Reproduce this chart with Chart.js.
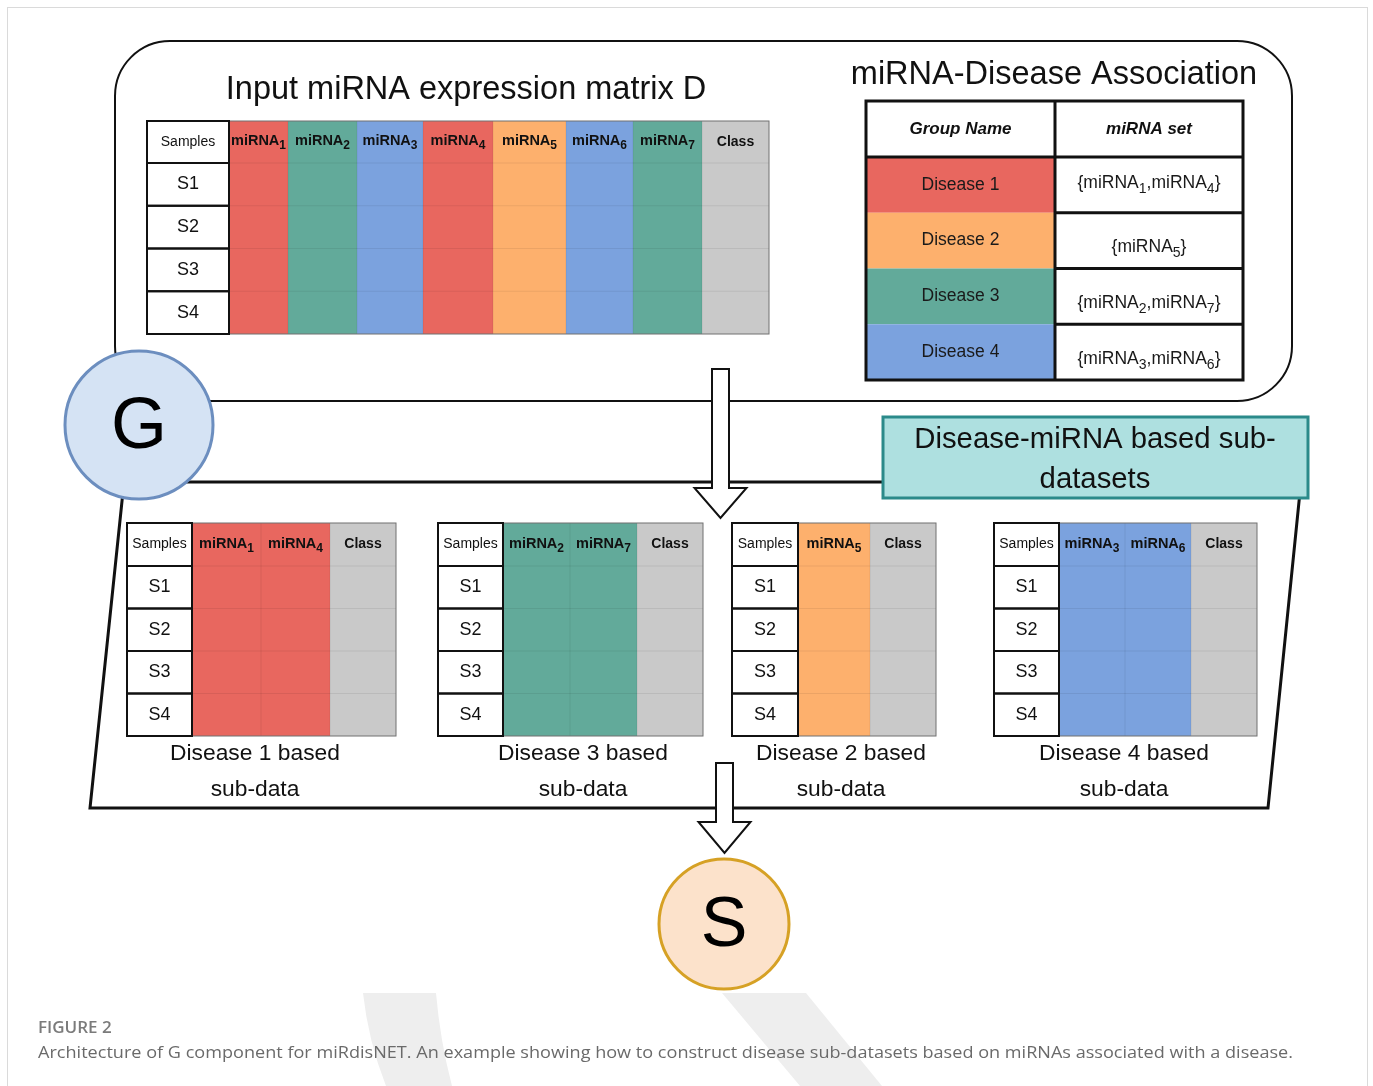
<!DOCTYPE html>
<html>
<head>
<meta charset="utf-8">
<script src="https://cdn.jsdelivr.net/npm/chart.js@4.4.0/dist/chart.umd.min.js"></script>
<style>
body { margin: 0; background: #fff; }
canvas { display: block; }
</style>
</head>
<body>
<canvas id="fig" width="1373" height="1086"></canvas>
<script>
const W = 1373, H = 1086
const FONT = '"Liberation Sans", Arial, sans-serif'

// Datos del esquema
const samples = ['S1', 'S2', 'S3', 'S4']
const mirnaIds = [1, 2, 3, 4, 5, 6, 7]
const diseases = ['Disease 1', 'Disease 2', 'Disease 3', 'Disease 4']
const diseaseMirnas = [[1, 4], [5], [2, 7], [3, 6]]
const subOrder = [0, 2, 1, 3]
const nodeLabels = ['G', 'S']

// Estilos
const diseaseColors = ['#E8675F', '#FDB06D', '#62AA9A', '#7BA2DE']
const classColor = '#C9C9C9'
const nodeFill = ['#D5E3F4', '#FCE2CB']
const nodeStroke = ['#6C8EBF', '#D6A125']

// Posiciones (en unidades de los ejes, 1 unidad = 1 px)
const mainT = { x: 147, y: 121, sampW: 82, colW: [59, 69, 66, 70, 73, 67, 69], classW: 67, headH: 42, rowH: 42.75 }
const subT = { xs: [127, 438, 732, 994], y: 523, sampW: [65, 65, 66, 65], colW: [69, 67, 72, 66], classW: 66, headH: 43, rowH: 42.5 }
const subLabelX = [255, 583, 841, 1124]
const assoc = { x: 866, y: 101, w1: 189, w2: 188, headH: 56, rowH: 55.75 }
const assocDy = [-2, 7, 7, 7]
const nodePos = [{ x: 139, y: 425, r: 74 }, { x: 724, y: 924, r: 65 }]

function colorOf(id) {
    const i = diseaseMirnas.findIndex(m => m.includes(id))
    return diseaseColors[i]
}

function line(ctx, x1, y1, x2, y2) {
    ctx.beginPath(); ctx.moveTo(x1, y1); ctx.lineTo(x2, y2); ctx.stroke()
}

function richText(ctx, parts, cx, cy, size, weight, style) {
    const font = sz => `${style || ''} ${weight || ''} ${sz}px ${FONT}`
    const subSize = Math.round(size * 0.82)
    let total = 0
    parts.forEach(p => {
        ctx.font = font(p.sub ? subSize : size)
        p.w = ctx.measureText(p.t).width
        total += p.w
    })
    let x = cx - total / 2
    ctx.textAlign = 'left'
    ctx.textBaseline = 'middle'
    parts.forEach(p => {
        ctx.font = font(p.sub ? subSize : size)
        ctx.fillText(p.t, x, cy + (p.sub ? size * 0.33 : 0))
        x += p.w
    })
}

function text(ctx, t, x, y, size, opts = {}) {
    ctx.font = `${opts.style || ''} ${opts.weight || ''} ${size}px ${opts.family || FONT}`
    ctx.fillStyle = opts.color || '#111'
    ctx.textAlign = opts.align || 'center'
    ctx.textBaseline = 'middle'
    ctx.fillText(t, x, y)
}

// Tabla de expresion (principal o sub-tabla)
function drawDataTable(ctx, sx, sy, x0, y0, ids, d) {
    const cols = ids.map((id, i) => ({ id, w: Array.isArray(d.colW) ? d.colW[i] : d.colW, color: colorOf(id) }))
    cols.push({ id: null, w: d.classW, color: classColor })
    const yEnd = y0 + d.headH + samples.length * d.rowH
    const xs = x0 + d.sampW
    let x = xs
    cols.forEach(c => {
        ctx.fillStyle = c.color
        ctx.fillRect(sx(x), sy(y0), sx(x + c.w) - sx(x), sy(yEnd) - sy(y0))
        c.x = x
        x += c.w
    })
    const xEnd = x
    // lineas tenues
    ctx.strokeStyle = 'rgba(0,0,0,0.07)'
    ctx.lineWidth = 1
    for (let i = 0; i < samples.length; i++) {
        const y = y0 + d.headH + i * d.rowH
        line(ctx, sx(xs), sy(y), sx(xEnd), sy(y))
    }
    cols.forEach((c, i) => { if (i > 0) line(ctx, sx(c.x), sy(y0), sx(c.x), sy(yEnd)) })
    ctx.strokeStyle = '#707070'
    ctx.strokeRect(sx(xs), sy(y0), sx(xEnd) - sx(xs), sy(yEnd) - sy(y0))

    // columna Samples
    ctx.fillStyle = '#fff'
    ctx.fillRect(sx(x0), sy(y0), sx(xs) - sx(x0), sy(yEnd) - sy(y0))
    ctx.strokeStyle = '#111'
    ctx.lineWidth = 2
    ctx.strokeRect(sx(x0), sy(y0), sx(xs) - sx(x0), sy(y0 + d.headH) - sy(y0))
    samples.forEach((s, i) => {
        const y = y0 + d.headH + i * d.rowH
        ctx.strokeRect(sx(x0), sy(y), sx(xs) - sx(x0), sy(y + d.rowH) - sy(y))
        text(ctx, s, sx(x0 + d.sampW / 2), sy(y + d.rowH / 2), 18)
    })
    const hy = sy(y0 + d.headH / 2)
    text(ctx, 'Samples', sx(x0 + d.sampW / 2), hy, 14)
    ctx.fillStyle = '#111'
    cols.forEach(c => {
        const cx = sx(c.x + c.w / 2)
        if (c.id === null) text(ctx, 'Class', cx, hy, 14, { weight: 'bold' })
        else richText(ctx, [{ t: 'miRNA' }, { t: String(c.id), sub: true }], cx, hy - 1, 14.5, 'bold')
    })
}

function hollowArrow(ctx, sx, sy, cx, top, base, tip, sh, hh) {
    ctx.beginPath()
    ctx.moveTo(sx(cx - sh), sy(top))
    ctx.lineTo(sx(cx + sh), sy(top))
    ctx.lineTo(sx(cx + sh), sy(base))
    ctx.lineTo(sx(cx + hh), sy(base))
    ctx.lineTo(sx(cx), sy(tip))
    ctx.lineTo(sx(cx - hh), sy(base))
    ctx.lineTo(sx(cx - sh), sy(base))
    ctx.closePath()
    ctx.fillStyle = '#fff'
    ctx.fill()
    ctx.strokeStyle = '#111'
    ctx.lineWidth = 2
    ctx.lineJoin = 'miter'
    ctx.stroke()
}

const diagram = {
    id: 'diagram',
    beforeDatasetsDraw(chart) {
        const ctx = chart.ctx
        const sx = v => chart.scales.x.getPixelForValue(v)
        const sy = v => chart.scales.y.getPixelForValue(v)
        ctx.save()

        // marca de agua
        ctx.fillStyle = '#EEEEEE'
        ctx.beginPath()
        ctx.moveTo(sx(363), sy(993)); ctx.lineTo(sx(436), sy(993))
        ctx.quadraticCurveTo(sx(440), sy(1040), sx(452), sy(1086))
        ctx.lineTo(sx(386), sy(1086))
        ctx.quadraticCurveTo(sx(368), sy(1040), sx(363), sy(993))
        ctx.fill()
        ctx.beginPath()
        ctx.moveTo(sx(722), sy(993)); ctx.lineTo(sx(806), sy(993))
        ctx.lineTo(sx(882), sy(1086)); ctx.lineTo(sx(800), sy(1086))
        ctx.closePath()
        ctx.fill()

        // borde de pagina
        ctx.strokeStyle = '#DADADA'
        ctx.lineWidth = 1
        ctx.strokeRect(sx(7) + 0.5, sy(7) + 0.5, sx(1367) - sx(7), sy(1100) - sy(7))

        // rectangulo superior redondeado
        const r = 55, x1 = sx(115), y1 = sy(41), x2 = sx(1292), y2 = sy(401)
        ctx.beginPath()
        ctx.moveTo(x1 + r, y1)
        ctx.arcTo(x2, y1, x2, y2, r)
        ctx.arcTo(x2, y2, x1, y2, r)
        ctx.arcTo(x1, y2, x1, y1, r)
        ctx.arcTo(x1, y1, x2, y1, r)
        ctx.closePath()
        ctx.strokeStyle = '#111'
        ctx.lineWidth = 2
        ctx.stroke()

        // paralelogramo inferior
        ctx.beginPath()
        ctx.moveTo(sx(124), sy(482)); ctx.lineTo(sx(1301), sy(482))
        ctx.lineTo(sx(1268), sy(808)); ctx.lineTo(sx(90), sy(808))
        ctx.closePath()
        ctx.lineWidth = 3
        ctx.stroke()

        // titulos
        text(ctx, 'Input miRNA expression matrix D', sx(466), sy(90), 32.5)
        text(ctx, 'miRNA-Disease Association', sx(1054), sy(75), 32.5)

        // tabla principal
        drawDataTable(ctx, sx, sy, mainT.x, mainT.y, mirnaIds, mainT)

        // tabla de asociacion
        const a = assoc
        const ax2 = a.x + a.w1, ax3 = ax2 + a.w2
        const aEnd = a.y + a.headH + diseases.length * a.rowH
        ctx.fillStyle = '#fff'
        ctx.fillRect(sx(a.x), sy(a.y), sx(ax3) - sx(a.x), sy(aEnd) - sy(a.y))
        diseases.forEach((dn, i) => {
            const y = a.y + a.headH + i * a.rowH
            ctx.fillStyle = diseaseColors[i]
            ctx.fillRect(sx(a.x), sy(y), sx(ax2) - sx(a.x), sy(y + a.rowH) - sy(y))
        })
        ctx.strokeStyle = '#111'
        ctx.lineWidth = 3
        line(ctx, sx(a.x), sy(a.y + a.headH), sx(ax3), sy(a.y + a.headH))
        line(ctx, sx(ax2), sy(a.y), sx(ax2), sy(aEnd))
        for (let i = 1; i < diseases.length; i++) {
            const y = a.y + a.headH + i * a.rowH
            line(ctx, sx(ax2), sy(y), sx(ax3), sy(y))
        }
        ctx.strokeRect(sx(a.x), sy(a.y), sx(ax3) - sx(a.x), sy(aEnd) - sy(a.y))
        text(ctx, 'Group Name', sx(a.x + a.w1 / 2), sy(a.y + a.headH / 2), 17, { weight: 'bold', style: 'italic' })
        text(ctx, 'miRNA set', sx(ax2 + a.w2 / 2), sy(a.y + a.headH / 2), 17, { weight: 'bold', style: 'italic' })
        diseases.forEach((dn, i) => {
            const cy = a.y + a.headH + (i + 0.5) * a.rowH
            text(ctx, dn, sx(a.x + a.w1 / 2), sy(cy), 17.5, { color: '#1a1a1a' })
            const parts = [{ t: '{' }]
            diseaseMirnas[i].forEach((id, k) => {
                parts.push({ t: (k > 0 ? ',' : '') + 'miRNA' })
                parts.push({ t: String(id), sub: true })
            })
            parts.push({ t: '}' })
            ctx.fillStyle = '#1a1a1a'
            richText(ctx, parts, sx(ax2 + a.w2 / 2), sy(cy + assocDy[i]), 17.5)
        })

        // caja de sub-datasets
        ctx.fillStyle = '#AEE0E0'
        ctx.fillRect(sx(883), sy(417), sx(1308) - sx(883), sy(498) - sy(417))
        ctx.strokeStyle = '#2B8A8A'
        ctx.lineWidth = 3
        ctx.strokeRect(sx(883), sy(417), sx(1308) - sx(883), sy(498) - sy(417))
        text(ctx, 'Disease-miRNA based sub-', sx(1095), sy(440), 29.3)
        text(ctx, 'datasets', sx(1095), sy(480), 29.3)

        // sub-tablas
        subOrder.forEach((di, k) => {
            const d = Object.assign({}, subT, { sampW: subT.sampW[k], colW: subT.colW[k] })
            drawDataTable(ctx, sx, sy, subT.xs[k], subT.y, diseaseMirnas[di], d)
            text(ctx, diseases[di] + ' based', sx(subLabelX[k]), sy(754), 22.8)
            text(ctx, 'sub-data', sx(subLabelX[k]), sy(790), 22.8)
        })

        // flechas
        hollowArrow(ctx, sx, sy, 720.5, 369, 488, 518, 8.5, 26)
        hollowArrow(ctx, sx, sy, 724.5, 763, 822, 853, 8.5, 26)

        // leyenda de la figura
        text(ctx, 'FIGURE 2', sx(38), sy(1028), 17, { align: 'left', weight: '600', family: '"Open Sans", sans-serif', color: '#7b7b7b' })
        const cap = 'Architecture of G component for miRdisNET. An example showing how to construct disease sub-datasets based on miRNAs associated with a disease.'
        ctx.font = `17px "Open Sans", sans-serif`
        const cw = ctx.measureText(cap).width
        ctx.save()
        ctx.translate(sx(38), sy(1053))
        ctx.scale((sx(1293) - sx(38)) / cw, 1)
        ctx.fillStyle = '#6a6a6a'
        ctx.textAlign = 'left'
        ctx.textBaseline = 'middle'
        ctx.fillText(cap, 0, 0)
        ctx.restore()

        ctx.restore()
    },
    afterDatasetsDraw(chart) {
        const ctx = chart.ctx
        const sx = v => chart.scales.x.getPixelForValue(v)
        const sy = v => chart.scales.y.getPixelForValue(v)
        ctx.save()
        nodeLabels.forEach((n, i) => {
            text(ctx, n, sx(nodePos[i].x), sy(nodePos[i].y + 3), i === 0 ? 72 : 70, { color: '#000' })
        })
        ctx.restore()
    }
}

new Chart(document.getElementById('fig'), {
    type: 'scatter',
    data: {
        datasets: [{
            label: 'nodos',
            data: nodePos.map(p => ({ x: p.x, y: p.y })),
            pointRadius: nodePos.map(p => p.r),
            pointHoverRadius: nodePos.map(p => p.r),
            backgroundColor: nodeFill,
            borderColor: nodeStroke,
            borderWidth: 3,
            clip: false
        }]
    },
    options: {
        responsive: false,
        animation: false,
        devicePixelRatio: 1,
        events: [],
        layout: { padding: 0, autoPadding: false },
        plugins: { legend: { display: false }, tooltip: { enabled: false } },
        scales: {
            x: { type: 'linear', min: 0, max: W, display: false },
            y: { type: 'linear', min: 0, max: H, reverse: true, display: false }
        }
    },
    plugins: [diagram]
})
</script>
</body>
</html>
